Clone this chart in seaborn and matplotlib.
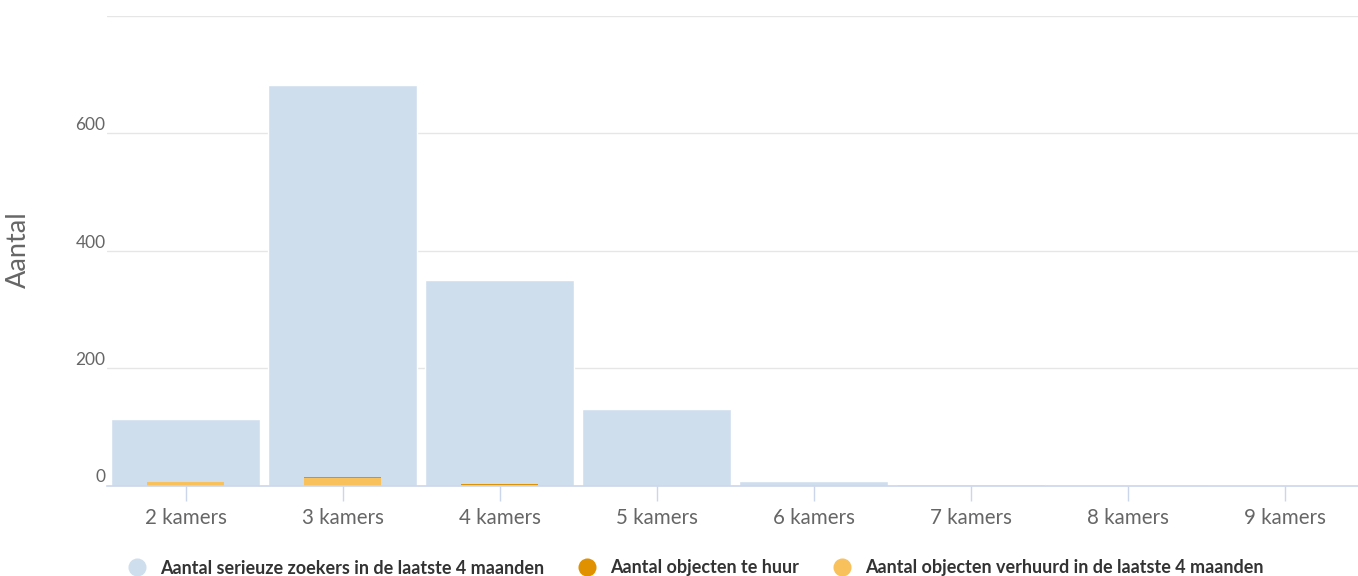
import matplotlib
matplotlib.use("Agg")
import matplotlib.pyplot as plt
import seaborn as sns
import pandas as pd
from matplotlib.lines import Line2D

categories = ["2 kamers", "3 kamers", "4 kamers", "5 kamers", "6 kamers", "7 kamers", "8 kamers", "9 kamers"]
zoekers = [113, 683, 350, 131, 8, 2, 0, 1]
te_huur = [0, 14, 3, 0, 0, 0, 0, 0]
verhuurd = [6, 13, 1, 0, 0, 0, 0, 0]
series_names = ["Aantal serieuze zoekers in de laatste 4 maanden",
                "Aantal objecten te huur",
                "Aantal objecten verhuurd in de laatste 4 maanden"]
y_ticks = [0, 200, 400, 600, 800]
y_ticklabels = ["0", "200", "400", "600", ""]

c_blue = "#cfdeec"
c_dark = "#e09100"
c_light = "#f8c15c"

sns.set_theme(style="white")
plt.rcParams["font.family"] = ["Lato", "DejaVu Sans"]

df = pd.DataFrame({"cat": categories, "zoekers": zoekers, "te_huur": te_huur, "verhuurd": verhuurd})

fig = plt.figure(figsize=(13.58, 5.76), dpi=100)
ax = fig.add_axes([107 / 1358, 1 - 485.5 / 576, 1 - 107 / 1358, (485.5 - 16) / 576])

sns.barplot(data=df, x="cat", y="zoekers", order=categories, color=c_blue, width=0.955,
            saturation=1, edgecolor="white", linewidth=1, ax=ax, zorder=2)
sns.barplot(data=df, x="cat", y="te_huur", order=categories, color=c_dark, width=0.49,
            saturation=1, linewidth=0, ax=ax, zorder=3)
sns.barplot(data=df, x="cat", y="verhuurd", order=categories, color=c_light, width=0.49,
            saturation=1, linewidth=0, ax=ax, zorder=4)

ax.set_xlim(-0.5, -0.5 + (1358 - 107) / 157)
ax.set_ylim(0, 800)
ax.set_yticks(y_ticks)
ax.set_yticklabels(y_ticklabels)
for lab in ax.get_yticklabels():
    lab.set_verticalalignment("bottom")
ax.tick_params(axis="y", length=0, pad=1, labelsize=12.5, labelcolor="#666666")
ax.tick_params(axis="x", length=11, width=1, color="#ccd6eb", pad=5,
               labelsize=14.8, labelcolor="#666666", bottom=True)
ax.yaxis.grid(True, color="#e6e6e6", linewidth=1, zorder=0)
ax.set_axisbelow(True)
for s in ["top", "right", "left"]:
    ax.spines[s].set_visible(False)
ax.spines["bottom"].set_color("#ccd6eb")
ax.spines["bottom"].set_linewidth(1.2)
ax.spines["bottom"].set_zorder(5)
ax.set_xlabel("")
ax.set_ylabel("")
fig.text(18 / 1358, 1 - 250 / 576, "Aantal", rotation=90, ha="center", va="center",
         fontsize=19.5, color="#666666")

handles = [Line2D([0], [0], marker="o", linestyle="", markersize=13, markerfacecolor=c, markeredgewidth=0)
           for c in [c_blue, c_dark, c_light]]
leg = fig.legend(handles, series_names, loc="center", bbox_to_anchor=(0.509, 1 - 568 / 576), ncol=3,
                 frameon=False, handletextpad=0.3, columnspacing=1.35,
                 prop={"weight": "bold", "size": 13})
for t in leg.get_texts():
    t.set_color("#333333")

fig.savefig("out.png", dpi=100)
